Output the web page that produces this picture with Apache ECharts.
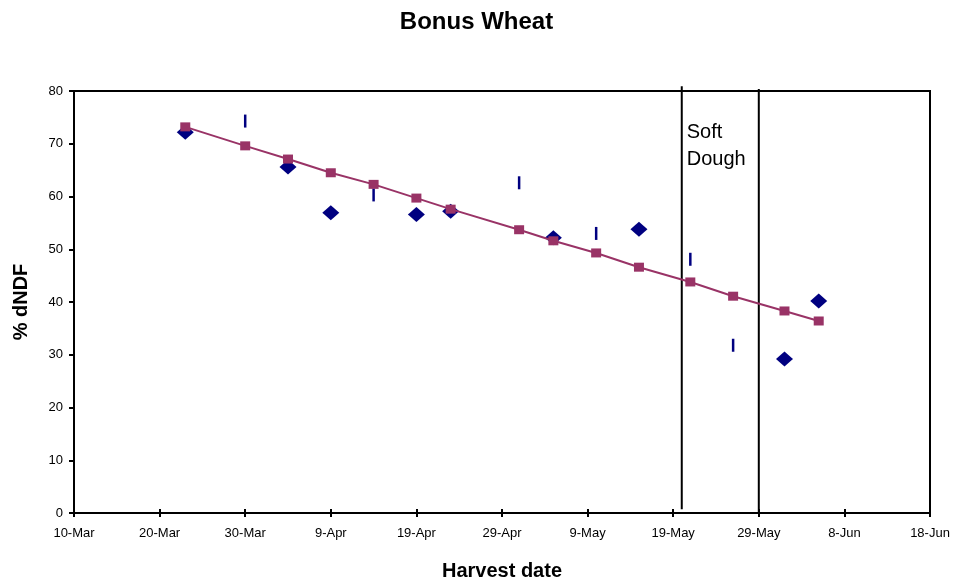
<!DOCTYPE html>
<html>
<head>
<meta charset="utf-8">
<script src="https://cdn.jsdelivr.net/npm/echarts@6/dist/echarts.min.js"></script>
<style>
  html, body { margin: 0; padding: 0; background: #fff; }
  #chart { width: 953px; height: 579px; }
</style>
</head>
<body>
<div id="chart"></div>
<script>
// dates are month-day, axis starts at 10-Mar
const fitDates = ['3-23', '3-30', '4-4', '4-9', '4-14', '4-19', '4-23', '5-1', '5-5', '5-10', '5-15', '5-21', '5-26', '6-1', '6-5']
const fitValues = [73.2, 69.6, 67.1, 64.5, 62.3, 59.7, 57.6, 53.7, 51.6, 49.3, 46.6, 43.8, 41.1, 38.3, 36.4]

const diamondDates = ['3-23', '4-4', '4-9', '4-19', '4-23', '5-5', '5-15', '6-1', '6-5']
const diamondValues = [72.2, 65.6, 56.9, 56.6, 57.2, 52.2, 53.8, 29.2, 40.2]

const dashDates = ['3-30', '4-14', '5-1', '5-10', '5-21', '5-26']
const dashValues = [74.3, 60.3, 62.6, 53.0, 48.1, 31.8]

const softDoughDates = ['5-20', '5-29']
const softDoughBottom = [0.7, 0]
const softDoughTop = [80.9, 80.4]
const softDoughLabelValue = 69.6

const axisStart = Date.UTC(2005, 2, 10)
const DAY = 86400000
const MONTHS = ['Jan', 'Feb', 'Mar', 'Apr', 'May', 'Jun', 'Jul', 'Aug', 'Sep', 'Oct', 'Nov', 'Dec']

function toDay(md) {
  const [m, d] = md.split('-').map(Number)
  return Math.round((Date.UTC(2005, m - 1, d) - axisStart) / DAY)
}
function dayLabel(v) {
  const dt = new Date(axisStart + v * DAY)
  return dt.getUTCDate() + '-' + MONTHS[dt.getUTCMonth()]
}
const pairs = (dates, vals) => dates.map((d, i) => [toDay(d), vals[i]])

const FONT = "'Liberation Sans', Arial, sans-serif"
const chart = echarts.init(document.getElementById('chart'))

const xBase = { type: 'value', min: 0, max: 100, interval: 10, position: 'bottom', splitLine: { show: false } }

const vLines = softDoughDates.map((d, i) => ({
  type: 'line',
  data: [[toDay(d), softDoughBottom[i]], [toDay(d), softDoughTop[i]]],
  symbol: 'none',
  clip: false,
  silent: true,
  lineStyle: { color: '#000', width: 2 },
  z: 1,
}))

chart.setOption({
  animation: false,
  backgroundColor: '#fff',
  textStyle: { fontFamily: FONT },
  title: {
    text: 'Bonus Wheat',
    left: 'center',
    top: 5,
    textStyle: { fontFamily: FONT, fontSize: 24, fontWeight: 'bold', color: '#000' },
  },
  grid: {
    left: 74, right: 23, top: 91, bottom: 66,
    outerBoundsMode: 'none',
    show: true, borderColor: '#000', borderWidth: 2,
  },
  xAxis: [
    {
      ...xBase,
      name: 'Harvest date',
      nameLocation: 'middle',
      nameGap: 48,
      nameTextStyle: { fontFamily: FONT, fontSize: 20, fontWeight: 'bold', color: '#000' },
      axisLine: { lineStyle: { color: '#000', width: 2 } },
      axisTick: { length: 4, lineStyle: { color: '#000', width: 2 } },
      axisLabel: { color: '#000', fontSize: 13, margin: 14, formatter: dayLabel, showMaxLabel: true },
    },
    {
      ...xBase,
      axisLine: { show: false },
      axisTick: { inside: true, length: 4, lineStyle: { color: '#000', width: 2 } },
      axisLabel: { show: false },
    },
  ],
  yAxis: {
    type: 'value',
    min: 0,
    max: 80,
    interval: 10,
    name: '% dNDF',
    nameLocation: 'middle',
    nameGap: 43,
    nameTextStyle: { fontFamily: FONT, fontSize: 20, fontWeight: 'bold', color: '#000' },
    axisLine: { show: true, lineStyle: { color: '#000', width: 2 } },
    axisTick: { show: true, length: 5, lineStyle: { color: '#000', width: 2 } },
    axisLabel: { color: '#000', fontSize: 13, margin: 11 },
    splitLine: { show: false },
  },
  series: [
    ...vLines,
    {
      type: 'scatter',
      data: [[toDay(softDoughDates[0]), softDoughLabelValue]],
      symbolSize: 0,
      silent: true,
      itemStyle: { opacity: 1 },
      label: {
        show: true,
        position: 'right',
        distance: 5,
        formatter: 'Soft\nDough',
        fontFamily: FONT,
        fontSize: 20,
        lineHeight: 27,
        color: '#000',
      },
    },
    {
      type: 'scatter',
      data: pairs(diamondDates, diamondValues),
      symbol: 'diamond',
      symbolSize: [17, 15],
      itemStyle: { color: '#000080', opacity: 1 },
      z: 3,
    },
    {
      type: 'scatter',
      data: pairs(dashDates, dashValues),
      symbol: 'rect',
      symbolSize: [2.5, 13],
      itemStyle: { color: '#000080', opacity: 1 },
      z: 3,
    },
    {
      type: 'line',
      data: pairs(fitDates, fitValues),
      symbol: 'rect',
      symbolSize: [10, 9],
      showAllSymbol: true,
      itemStyle: { color: '#993366', opacity: 1 },
      lineStyle: { color: '#993366', width: 2 },
      z: 4,
    },
  ],
})
</script>
</body>
</html>
